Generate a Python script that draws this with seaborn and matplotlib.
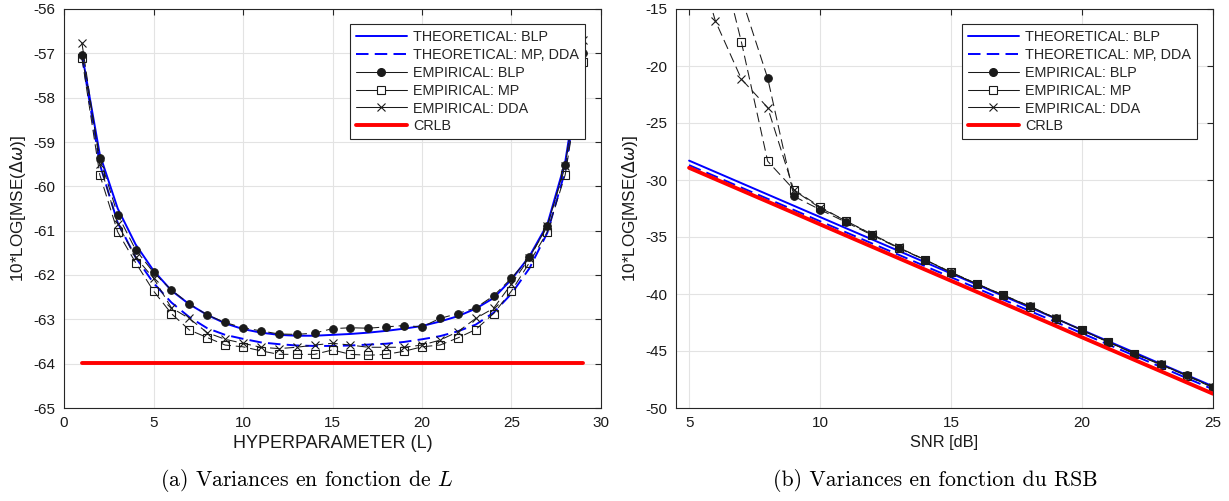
import matplotlib
matplotlib.use("Agg")
import matplotlib.pyplot as plt
import seaborn as sns
from matplotlib.lines import Line2D

# ---------------- data: panel (a) ----------------
L = list(range(1, 30))
theo_blp_L = [-57.00, -59.28, -60.50, -61.31, -61.90, -62.35, -62.66, -62.90, -63.09, -63.22,
              -63.30, -63.35, -63.37, -63.37, -63.35, -63.33, -63.30, -63.26, -63.21, -63.15,
              -63.05, -62.93, -62.76, -62.52, -62.10, -61.58, -60.86, -59.45, -56.90]
theo_mp_L = [-57.05, -59.50, -60.82, -61.60, -62.18, -62.62, -62.95, -63.20, -63.35, -63.44,
             -63.52, -63.56, -63.59, -63.60, -63.60, -63.59, -63.57, -63.55, -63.51, -63.45,
             -63.38, -63.27, -63.12, -62.85, -62.42, -61.85, -61.05, -59.65, -57.00]
emp_blp_L = [-57.04, -59.36, -60.64, -61.43, -61.94, -62.34, -62.65, -62.90, -63.07, -63.19,
             -63.26, -63.33, -63.34, -63.31, -63.21, -63.19, -63.20, -63.17, -63.14, -63.17,
             -62.98, -62.87, -62.74, -62.47, -62.07, -61.60, -60.90, -59.51, -57.00]
emp_mp_L = [-57.10, -59.74, -61.03, -61.72, -62.36, -62.87, -63.24, -63.41, -63.58, -63.62,
            -63.71, -63.79, -63.79, -63.79, -63.69, -63.79, -63.81, -63.79, -63.72, -63.62,
            -63.58, -63.42, -63.23, -62.87, -62.36, -61.72, -61.03, -59.74, -57.20]
emp_dda_L = [-56.76, -59.50, -60.85, -61.60, -62.07, -62.74, -62.98, -63.30, -63.45, -63.54,
             -63.63, -63.66, -63.63, -63.58, -63.54, -63.58, -63.63, -63.63, -63.63, -63.58,
             -63.47, -63.28, -62.98, -62.75, -62.20, -61.62, -60.90, -59.55, -56.70]
crlb_L_x = [1, 29]
crlb_L = [-63.98, -63.98]

# ---------------- data: panel (b) ----------------
snr = list(range(5, 26))
theo_blp_S = [-28.30, -29.29, -30.28, -31.27, -32.26, -33.25, -34.24, -35.23, -36.22, -37.21,
              -38.20, -39.19, -40.18, -41.17, -42.16, -43.15, -44.14, -45.13, -46.12, -47.11, -48.10]
theo_mp_S = [-28.70, -29.68, -30.67, -31.65, -32.63, -33.62, -34.60, -35.58, -36.56, -37.55,
             -38.53, -39.51, -40.50, -41.48, -42.46, -43.45, -44.43, -45.41, -46.39, -47.38, -48.36]
emp_blp_S = [2.0, -6.0, -14.0, -21.07, -31.43, -32.60, -33.72, -34.85, -35.98, -37.00,
             -38.12, -39.12, -40.09, -41.06, -42.14, -43.17, -44.20, -45.22, -46.16, -47.13, -48.16]
emp_mp_S = [-2.0, -8.6, -17.93, -28.35, -30.85, -32.35, -33.62, -34.80, -35.95, -37.00,
            -38.10, -39.15, -40.12, -41.10, -42.15, -43.20, -44.22, -45.25, -46.20, -47.18, -48.22]
emp_dda_S = [-8.0, -16.03, -21.16, -23.65, -30.90, -32.45, -33.60, -34.78, -35.92, -36.98,
             -38.08, -39.12, -40.10, -41.08, -42.12, -43.18, -44.20, -45.22, -46.18, -47.15, -48.18]
crlb_S = [-28.93, -29.92, -30.91, -31.90, -32.89, -33.89, -34.88, -35.87, -36.86, -37.85,
          -38.84, -39.83, -40.82, -41.81, -42.80, -43.80, -44.79, -45.78, -46.77, -47.76, -48.75]

labels = ["THEORETICAL: BLP", "THEORETICAL: MP, DDA", "EMPIRICAL: BLP",
          "EMPIRICAL: MP", "EMPIRICAL: DDA", "CRLB"]

sns.set_theme(style="whitegrid")
plt.rcParams["font.family"] = ["Liberation Sans", "DejaVu Sans"]
plt.rcParams["axes.unicode_minus"] = False
plt.rcParams["lines.scale_dashes"] = False

BLUE = "#0000ff"
RED = "#ff0000"
EDGE = "#262626"
THEO_DASH = (0, (9, 4.5))
EMP_DASH = (0, (7, 3.5))

fig = plt.figure(figsize=(12.29, 5.01), dpi=100)
ax1 = fig.add_axes([64 / 1229, 1 - 408 / 501, 537 / 1229, 399 / 501])
ax2 = fig.add_axes([676 / 1229, 1 - 408 / 501, 537 / 1229, 399 / 501])


def draw(ax, x, tb, tm, eb, em, ed, cx, cr):
    sns.lineplot(x=x, y=tb, ax=ax, color=BLUE, lw=1.4, sort=False)
    sns.lineplot(x=x, y=tm, ax=ax, color=BLUE, lw=1.4, linestyle=THEO_DASH, sort=False)
    sns.lineplot(x=x, y=eb, ax=ax, color="k", lw=0.75, linestyle=EMP_DASH, marker="o",
                 markersize=5.5, markerfacecolor="k", markeredgecolor="k", sort=False)
    sns.lineplot(x=x, y=em, ax=ax, color="k", lw=0.75, linestyle=EMP_DASH, marker="s",
                 markersize=6, markerfacecolor="none", markeredgecolor="k",
                 markeredgewidth=0.8, sort=False)
    sns.lineplot(x=x, y=ed, ax=ax, color="k", lw=0.75, linestyle=EMP_DASH, marker="x",
                 markersize=6, markeredgecolor="k", markeredgewidth=0.8, sort=False)
    sns.lineplot(x=cx, y=cr, ax=ax, color=RED, lw=2.8, sort=False)


draw(ax1, L, theo_blp_L, theo_mp_L, emp_blp_L, emp_mp_L, emp_dda_L, crlb_L_x, crlb_L)
draw(ax2, snr, theo_blp_S, theo_mp_S, emp_blp_S, emp_mp_S, emp_dda_S, snr, crlb_S)

ax1.set_xlim(0, 30)
ax1.set_ylim(-65, -56)
ax1.set_xticks(range(0, 31, 5))
ax1.set_yticks(range(-65, -55, 1))
ax2.set_xlim(4.5, 25)
ax2.set_ylim(-50, -15)
ax2.set_xticks(range(5, 26, 5))
ax2.set_yticks(range(-50, -14, 5))

handles = [
    Line2D([], [], color=BLUE, lw=1.4),
    Line2D([], [], color=BLUE, lw=1.4, linestyle=THEO_DASH),
    Line2D([], [], color="k", lw=0.75, marker="o", markersize=5.5, mfc="k", mec="k"),
    Line2D([], [], color="k", lw=0.75, marker="s", markersize=6, mfc="white", mec="k", mew=0.8),
    Line2D([], [], color="k", lw=0.75, marker="x", markersize=6, mec="k", mew=0.8),
    Line2D([], [], color=RED, lw=2.8),
]

for ax in (ax1, ax2):
    ax.set_facecolor("white")
    ax.set_axisbelow(True)
    ax.grid(True, color="#e3e3e3", lw=0.8)
    for s in ax.spines.values():
        s.set_color(EDGE)
        s.set_linewidth(0.8)
        s.set_visible(True)
    ax.tick_params(direction="in", length=4, width=0.8, color=EDGE, top=True, right=True,
                   labelsize=11, labelcolor="#1a1a1a", pad=6)
    leg = ax.legend(handles, labels, loc="upper right", bbox_to_anchor=(0.970, 0.962),
                    fontsize=10.4, frameon=True, fancybox=False, framealpha=1,
                    edgecolor=EDGE, borderpad=0.4, labelspacing=0.27, handlelength=3.5,
                    handletextpad=0.45, borderaxespad=0)
    leg.get_frame().set_linewidth(0.8)
    ax.set_ylabel(r"10*LOG[MSE($\Delta\omega$)]", fontsize=12.3, color="#1a1a1a", labelpad=4)

ax1.set_xlabel("HYPERPARAMETER (L)", fontsize=13, color="#1a1a1a", labelpad=3)
ax2.set_xlabel("SNR [dB]", fontsize=11.8, color="#1a1a1a", labelpad=3)

fig.text(307 / 1229, 1 - 481 / 501, r"(a) Variances en fonction de $L$", family="cmr10",
         math_fontfamily="cm", fontsize=15.7, ha="center", va="center", color="black")
fig.text(935 / 1229, 1 - 481 / 501, "(b) Variances en fonction du RSB", family="cmr10",
         fontsize=15.7, ha="center", va="center", color="black")

fig.savefig("out.png", dpi=100, facecolor="white")
